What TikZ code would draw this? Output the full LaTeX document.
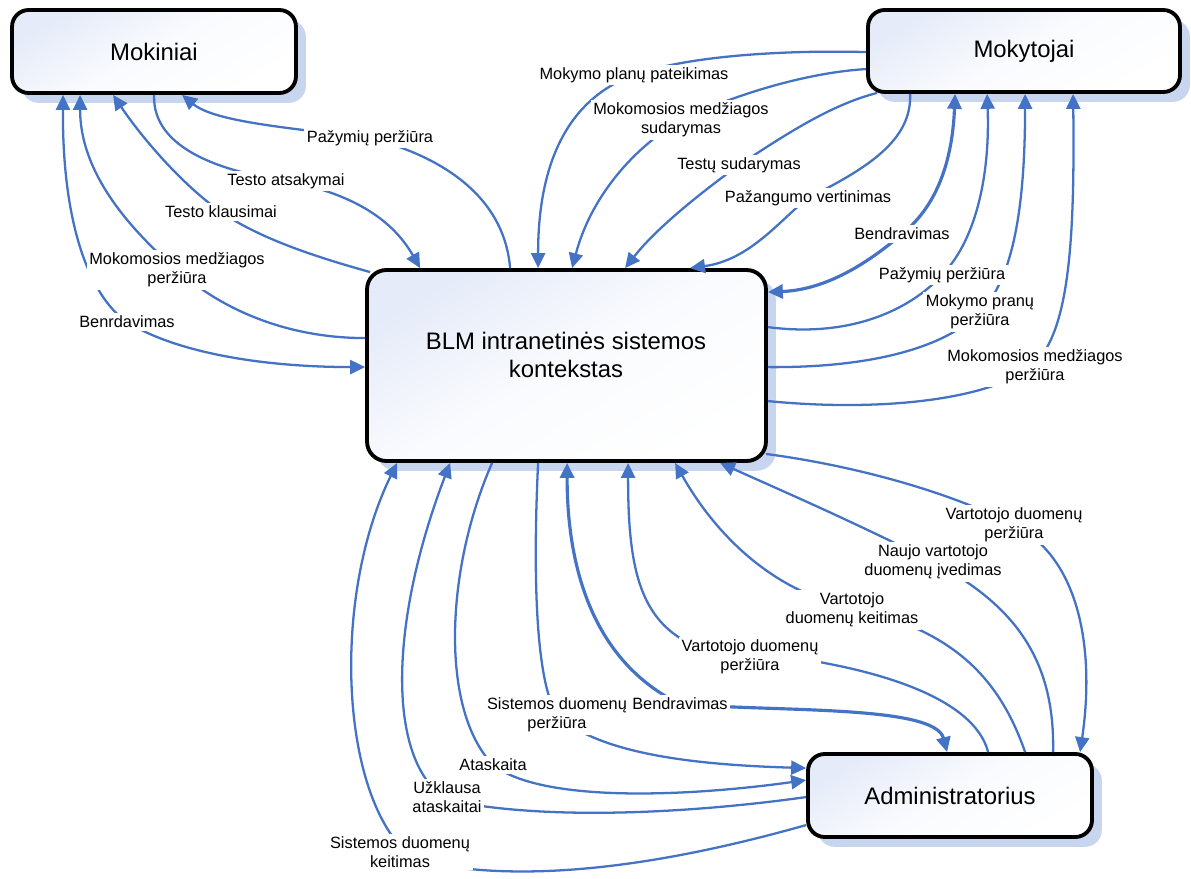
\documentclass[tikz,border=0pt]{standalone}
\usepackage{fontspec}
\setmainfont{Liberation Sans}
\usetikzlibrary{arrows.meta,calc,shadows}

\definecolor{flowblue}{RGB}{68,114,196}
\definecolor{boxtint}{RGB}{229,235,248}
\definecolor{shadowblue}{RGB}{200,213,238}

\pgfdeclarelayer{boxes}
\pgfdeclarelayer{labels}
\pgfsetlayers{boxes,main,labels}

\tikzset{
  box/.style={draw=black, line width=2.2pt, rounded corners=9.5pt,
    top color=boxtint, bottom color=white, middle color=white!80!boxtint, shading angle=30,
    drop shadow={shadow xshift=5.6pt, shadow yshift=-5.6pt, fill=shadowblue, opacity=1},
    font=\fontsize{13.6}{16.4}\selectfont, align=center, inner sep=0pt},
  boxtext/.style={font=\fontsize{13.6}{16.4}\selectfont, align=center, inner sep=0pt},
  tip/.tip={Triangle[length=8.5pt,width=8pt]},
  flow/.style={draw=flowblue, line width=1.3pt, -tip},
  both/.style={draw=flowblue, line width=1.3pt, tip-tip},
  heavy/.style={line width=1.8pt},
  lab/.style={fill=white, inner sep=1.5pt, font=\fontsize{9.3}{11}\selectfont, align=center},
}

\begin{document}
\begin{tikzpicture}[x=0.02cm, y=-0.02cm]
\useasboundingbox (0,0) rectangle (1191,879);

% the four entities, on a white sheet
\begin{pgfonlayer}{boxes}
  \fill[white] (0,0) rectangle (1191,879);
  \node[box, minimum width=5.68cm, minimum height=1.66cm] (mok) at (154,51.5) {Mokiniai};
  \node[box, minimum width=6.24cm, minimum height=1.64cm] (mky) at (1024,51) {Mokytojai};
  \node[box, rounded corners=11pt, minimum width=7.98cm, minimum height=3.82cm] (ctr) at (566.5,365.5) {};
  \node[boxtext] (ctrtxt) at (566,355) {BLM intranetinės sistemos\\kontekstas};
  \node[box, minimum width=5.68cm, minimum height=1.66cm] (adm) at (950,795.5) {Administratorius};
\end{pgfonlayer}

% flow labels
\begin{pgfonlayer}{labels}
  \node[lab] (t1) at (370,138) {Pažymių peržiūra};
  \node[lab] (t2) at (286,181) {Testo atsakymai};
  \node[lab] (t3) at (221,212) {Testo klausimai};
  \node[lab] (t4) at (177,270) {Mokomosios medžiagos\\peržiūra};
  \node[lab] (t5) at (127,322) {Benrdavimas};
  \node[lab] (t6) at (634,75) {Mokymo planų pateikimas};
  \node[lab] (t7) at (681,120) {Mokomosios medžiagos\\sudarymas};
  \node[lab] (t8) at (739,165) {Testų sudarymas};
  \node[lab] (t9) at (808,198) {Pažangumo vertinimas};
  \node[lab] (t10) at (902,234) {Bendravimas};
  \node[lab] (t11) at (942,275) {Pažymių peržiūra};
  \node[lab] (t12) at (980,312) {Mokymo pranų\\peržiūra};
  \node[lab] (t13) at (1035,367) {Mokomosios medžiagos\\peržiūra};
  \node[lab] (t14) at (1014,525) {Vartotojo duomenų\\peržiūra};
  \node[lab] (t15) at (933,562) {Naujo vartotojo\\duomenų įvedimas};
  \node[lab] (t16) at (852,610) {Vartotojo\\duomenų keitimas};
  \node[lab] (t17) at (750,657) {Vartotojo duomenų\\peržiūra};
  \node[lab] (t18) at (680,704) {Bendravimas};
  \node[lab] (t19) at (557,715) {Sistemos duomenų\\peržiūra};
  \node[lab] (t20) at (493,765) {Ataskaita};
  \node[lab] (t21) at (447,797) {Užklausa\\ataskaitai};
  \node[lab] (t22) at (400,852) {Sistemos duomenų\\keitimas};
\end{pgfonlayer}

% flows between Mokiniai and the system
\draw[flow] ($(ctr.north west)+(145,0)$) .. controls (505,205) and (455,160) .. (t1.center)
  .. controls (290,128) and (215,122) .. ($(mok.south west)+(172,0)$);
\draw[flow] ($(mok.south west)+(144,0)$) .. controls (152,150) and (225,172) .. (t2.center)
  .. controls (345,192) and (390,215) .. ($(ctr.north west)+(55,0)$);
\draw[flow] ($(ctr.north west)+(5,4)$) .. controls (320,258) and (262,240) .. (t3.center)
  .. controls (180,183) and (140,135) .. ($(mok.south west)+(103,0)$);
\draw[flow] ($(ctr.north west)+(0,70)$) .. controls (290,338) and (225,312) .. (t4.center)
  .. controls (125,225) and (80,170) .. ($(mok.south west)+(70,0)$);
\draw[both] ($(mok.south west)+(53,0)$) .. controls (62,220) and (88,295) .. (t5.center)
  .. controls (175,352) and (260,367) .. ($(ctr.north west)+(0,99)$);

% flows between Mokytojai and the system
\draw[flow] ($(mky.north west)+(0,44)$) .. controls (790,50) and (690,55) .. (t6.center)
  .. controls (570,98) and (538,160) .. ($(ctr.north west)+(173,0)$);
\draw[flow] ($(mky.north west)+(0,61)$) .. controls (815,72) and (745,90) .. (t7.center)
  .. controls (630,150) and (590,200) .. ($(ctr.north west)+(207,0)$);
\draw[flow] ($(mky.south west)+(11,-1)$) .. controls (830,105) and (785,135) .. (t8.center)
  .. controls (695,197) and (655,230) .. ($(ctr.north west)+(260,0)$);
\draw[flow] ($(mky.south west)+(44,0)$) .. controls (912,140) and (868,168) .. (t9.center)
  .. controls (780,220) and (750,260) .. ($(ctr.north west)+(325,0)$);
\draw[both, heavy] ($(mky.south west)+(89,0)$) .. controls (952,170) and (932,210) .. (t10.center)
  .. controls (860,270) and (820,290) .. ($(ctr.north east)+(0,24)$);
\draw[flow] ($(ctr.north east)+(0,59)$) .. controls (850,338) and (910,310) .. (t11.center)
  .. controls (978,238) and (990,170) .. ($(mky.south west)+(121,0)$);
\draw[flow] ($(ctr.north east)+(0,99)$) .. controls (870,368) and (945,348) .. (t12.center)
  .. controls (1015,278) and (1025,200) .. ($(mky.south west)+(159,0)$);
\draw[flow] ($(ctr.north east)+(0,133)$) .. controls (880,412) and (985,400) .. ($(t13.center)+(-5,1)$)
  .. controls (1068,338) and (1075,250) .. ($(mky.south west)+(207,0)$);

% flows between Administratorius and the system
\draw[flow] ($(ctr.south east)+(-2,-9)$) .. controls (850,465) and (945,490) .. (t14.center)
  .. controls (1080,558) and (1095,650) .. ($(adm.north west)+(274,0)$);
\draw[flow] ($(adm.north west)+(247,0)$) .. controls (1055,660) and (1015,605) .. (t15.center)
  .. controls (850,520) and (780,490) .. ($(ctr.south west)+(355,0)$);
\draw[flow] ($(adm.north west)+(219,0)$) .. controls (1000,680) and (955,630) .. ($(t16.center)+(0,-2)$)
  .. controls (765,590) and (710,525) .. ($(ctr.south west)+(310,0)$);
\draw[flow] ($(adm.north west)+(182,0)$) .. controls (975,700) and (880,660) .. ($(t17.center)+(-50,-9)$)
  .. controls (640,625) and (628,570) .. ($(ctr.south west)+(263,0)$);
\draw[both, heavy] ($(ctr.south west)+(202,0)$) .. controls (567,580) and (600,665) .. (t18.center)
  .. controls (780,712) and (935,705) .. ($(adm.north west)+(141,0)$);
\draw[flow] ($(ctr.south west)+(173,0)$) .. controls (533,570) and (535,680) .. (t19.center)
  .. controls (600,755) and (700,765) .. ($(adm.north west)+(0,16)$);
\draw[flow] ($(ctr.south west)+(127,0)$) .. controls (445,570) and (440,710) .. (t20.center)
  .. controls (545,805) and (700,795) .. ($(adm.north west)+(0,28)$);
\draw[flow] ($(adm.north west)+(0,45)$) .. controls (700,812) and (550,822) .. ($(t21.center)+(0,3)$)
  .. controls (385,760) and (390,620) .. ($(ctr.south west)+(85,0)$);
\draw[flow] ($(adm.north west)+(0,73)$) .. controls (700,855) and (540,890) .. ($(t22.center)+(15,8)$)
  .. controls (340,805) and (330,600) .. ($(ctr.south west)+(32,0)$);

\end{tikzpicture}
\end{document}
